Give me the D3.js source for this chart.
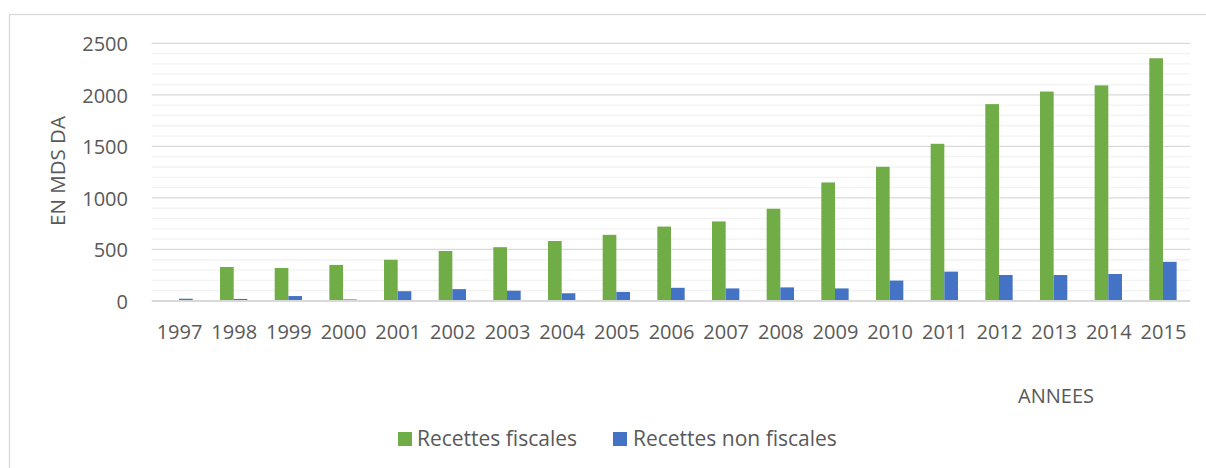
<!DOCTYPE html>
<html><head><meta charset="utf-8">
<script src="https://cdn.jsdelivr.net/npm/d3@7"></script>
<style>body{margin:0;background:#fff}svg{display:block}text{font-family:"Open Sans",sans-serif;fill:#595959}</style>
</head><body><svg id="c" width="1206" height="468"></svg>
<script>
const years = ["1997","1998","1999","2000","2001","2002","2003","2004","2005","2006","2007","2008","2009","2010","2011","2012","2013","2014","2015"];
const fiscales = [0,330,320,350,400,485,522,582,642,722,772,895,1150,1302,1525,1910,2032,2092,2355];
const nonFiscales = [22,20,48,15,95,115,100,75,88,128,122,132,122,198,285,252,252,262,380];
const seriesNames = ["Recettes fiscales","Recettes non fiscales"];
const colors = ["#70ad47","#4472c4"];
const yTicks = [0,500,1000,1500,2000,2500];

const svg = d3.select("#c");
const L = 151.7, R = 1190.3, T = 43.3, B = 301;
// chart frame
svg.append("rect").attr("x",9.5).attr("y",14.5).attr("width",1220).attr("height",480)
  .attr("fill","none").attr("stroke","#d9d9d9").attr("stroke-width",1.3);

const step = (R-L)/years.length;
const bw = step/4;
const y = d3.scaleLinear().domain([0,2500]).range([B,T]);

// minor gridlines
const minor = d3.range(100,2501,100).filter(v=>v%500!==0);
svg.append("g").selectAll("line").data(minor).join("line")
  .attr("x1",L).attr("x2",R).attr("y1",d=>y(d)).attr("y2",d=>y(d))
  .attr("stroke","#f2f2f2").attr("stroke-width",1.3);
// major gridlines
svg.append("g").selectAll("line").data(yTicks.filter(v=>v>0)).join("line")
  .attr("x1",L).attr("x2",R).attr("y1",d=>y(d)).attr("y2",d=>y(d))
  .attr("stroke","#d9d9d9").attr("stroke-width",1.3);

// y axis labels
const yAxis = d3.axisLeft(y).tickValues(yTicks).tickSize(0).tickPadding(0).tickFormat(d3.format("d"));
const ga = svg.append("g").attr("transform",`translate(128,0)`).call(yAxis);
ga.select(".domain").remove();
ga.selectAll("text").attr("font-size",20).attr("fill","#595959").attr("dy","0.36em").style("font-family","Open Sans");

// bars
const xBand = d3.scaleBand().domain(years).range([L,R]);
const data = [fiscales, nonFiscales];
data.forEach((vals,si)=>{
  svg.append("g").selectAll("rect").data(vals).join("rect")
    .attr("x",(d,i)=>xBand(years[i]) + step/2 - bw + si*bw)
    .attr("width",bw)
    .attr("y",d=>y(d))
    .attr("height",d=>B-y(d))
    .attr("fill",colors[si]);
});

// baseline
svg.append("line").attr("x1",L).attr("x2",R).attr("y1",B).attr("y2",B)
  .attr("stroke","#d9d9d9").attr("stroke-width",2);

// x axis labels
const xa = d3.axisBottom(d3.scalePoint().domain(years).range([L+step/2,R-step/2])).tickSize(0).tickPadding(0);
const gx = svg.append("g").attr("transform",`translate(0,${B})`).call(xa);
gx.select(".domain").remove();
gx.selectAll("text").attr("font-size",20).attr("fill","#595959").attr("y",38).attr("dy",0).style("font-family","Open Sans");

// axis titles
svg.append("text").attr("transform","translate(65,171) rotate(-90)").attr("text-anchor","middle")
  .attr("font-size",20.5).text("EN MDS DA");
svg.append("text").attr("x",1056).attr("y",403).attr("text-anchor","middle").attr("font-size",20).text("ANNEES");

// legend
const leg = [{x:398,tx:417},{x:613,tx:633}];
seriesNames.forEach((n,i)=>{
  svg.append("rect").attr("x",leg[i].x).attr("y",432).attr("width",14).attr("height",14).attr("fill",colors[i]);
  svg.append("text").attr("x",leg[i].tx).attr("y",446).attr("font-size",21).text(n);
});
</script></body></html>
